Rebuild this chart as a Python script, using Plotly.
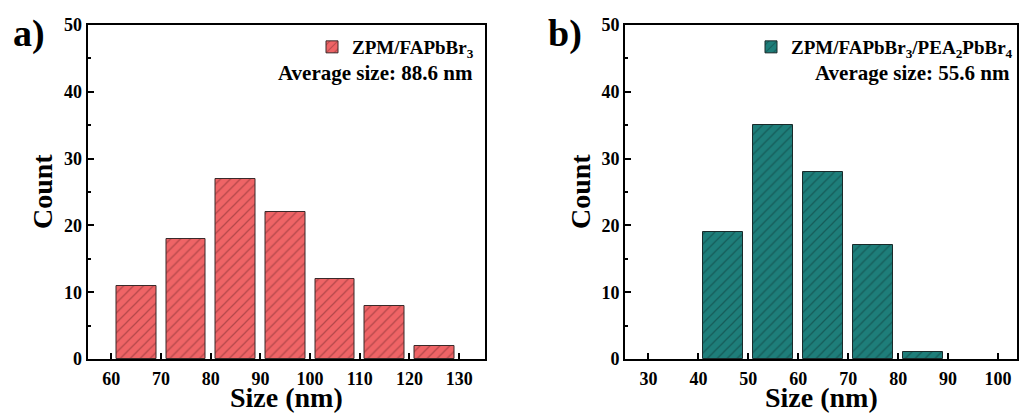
import plotly.graph_objects as go

# ---- data ----
size_a = [65, 75, 85, 95, 105, 115, 125]
count_a = [11, 18, 27, 22, 12, 8, 2]
size_b = [45, 55, 65, 75, 85]
count_b = [19, 35, 28, 17, 1]
name_a = "ZPM/FAPbBr<sub>3</sub>"
name_b = "ZPM/FAPbBr<sub>3</sub>/PEA<sub>2</sub>PbBr<sub>4</sub>"
avg_a = "Average size: 88.6 nm"
avg_b = "Average size: 55.6 nm"
xticks_a = [60, 70, 80, 90, 100, 110, 120, 130]
xticks_b = [30, 40, 50, 60, 70, 80, 90, 100]
yticks = [0, 10, 20, 30, 40, 50]
xtitle = "Size (nm)"
ytitle = "Count"

FONT = "Liberation Serif"
RED = "#EF6466"
TEAL = "#1E7E7A"

fig = go.Figure()
fig.add_trace(go.Bar(
    x=size_a, y=count_a, width=8, name=name_a, xaxis="x", yaxis="y",
    marker=dict(color=RED, line=dict(color="#3a2a2a", width=1),
                pattern=dict(shape="/", fgcolor="#7a2c2e", size=7, solidity=0.18)),
    legend="legend",
))
fig.add_trace(go.Bar(
    x=size_b, y=count_b, width=8, name=name_b, xaxis="x2", yaxis="y2",
    marker=dict(color=TEAL, line=dict(color="#1a2a2a", width=1),
                pattern=dict(shape="/", fgcolor="#0d3a38", size=7, solidity=0.18)),
    legend="legend2",
))

tickfont = dict(family=FONT, size=18, color="black", weight="bold")

def xax(domain, rng, ticks, anchor):
    return dict(domain=domain, range=rng, tickvals=ticks, ticks="inside", ticklen=6,
                tickwidth=1.5, tickcolor="black", showline=True, linewidth=2,
                linecolor="black", mirror=True, showgrid=False, zeroline=False,
                tickfont=tickfont, anchor=anchor, automargin=False, ticklabelstandoff=2)

def yax(domain, anchor):
    return dict(domain=domain, range=[0, 50], tickvals=yticks, ticks="inside", ticklen=6,
                tickwidth=1.5, tickcolor="black", showline=True, linewidth=2,
                linecolor="black", mirror=True, showgrid=False, zeroline=False,
                tickfont=tickfont, anchor=anchor, automargin=False,
                minor=dict(dtick=5, tick0=0, ticks="inside", ticklen=3, tickcolor="black", tickwidth=1.5))

ydom = [1 - 359 / 416, 1 - 25 / 416]
legfont = dict(family=FONT, size=19, color="black", weight="bold")
annfont = dict(family=FONT, size=21, color="black", weight="bold")
titlefont = dict(family=FONT, size=28, color="black", weight="bold")
fig.update_layout(
    width=1024, height=416,
    margin=dict(l=0, r=0, t=0, b=0, autoexpand=False),
    paper_bgcolor="white", plot_bgcolor="white",
    bargap=0,
    xaxis=xax([87.5 / 1024, 485 / 1024], [55.2, 135.2], xticks_a, "y"),
    yaxis=yax(ydom, "x"),
    xaxis2=xax([625 / 1024, 1017 / 1024], [25.3, 103.8], xticks_b, "y2"),
    yaxis2=yax(ydom, "x2"),
    legend=dict(x=479 / 1024, y=1 - 28 / 416, xanchor="right", yanchor="top",
                bgcolor="rgba(0,0,0,0)", font=legfont),
    legend2=dict(x=1018 / 1024, y=1 - 28 / 416, xanchor="right", yanchor="top",
                 bgcolor="rgba(0,0,0,0)", font=legfont),
    showlegend=True,
)

# axis titles
for xc, yc_x in [((87.5 + 485) / 2, 42), ((625 + 1017) / 2, 580)]:
    fig.add_annotation(text=xtitle, x=xc / 1024, y=1 - 397 / 416, xref="paper", yref="paper",
                       xanchor="center", yanchor="middle", showarrow=False, font=titlefont)
    fig.add_annotation(text=ytitle, x=yc_x / 1024, y=1 - 192 / 416, xref="paper", yref="paper",
                       xanchor="center", yanchor="middle", showarrow=False, textangle=-90,
                       font=titlefont)

fig.add_annotation(text=avg_a, x=475 / 1024, y=1 - 73 / 416, xref="paper", yref="paper",
                   xanchor="right", yanchor="middle", showarrow=False, font=annfont)
fig.add_annotation(text=avg_b, x=1012 / 1024, y=1 - 73 / 416, xref="paper", yref="paper",
                   xanchor="right", yanchor="middle", showarrow=False, font=annfont)
fig.add_annotation(text="a)", x=29 / 1024, y=1 - 33 / 416, xref="paper", yref="paper",
                   xanchor="center", yanchor="middle", showarrow=False,
                   font=dict(family=FONT, size=38, color="black", weight="bold"))
fig.add_annotation(text="b)", x=565 / 1024, y=1 - 33 / 416, xref="paper", yref="paper",
                   xanchor="center", yanchor="middle", showarrow=False,
                   font=dict(family=FONT, size=38, color="black", weight="bold"))

fig.write_html("out.html", config={"displayModeBar": False},
               post_script="document.body.style.margin='0';document.body.style.overflow='hidden';")
